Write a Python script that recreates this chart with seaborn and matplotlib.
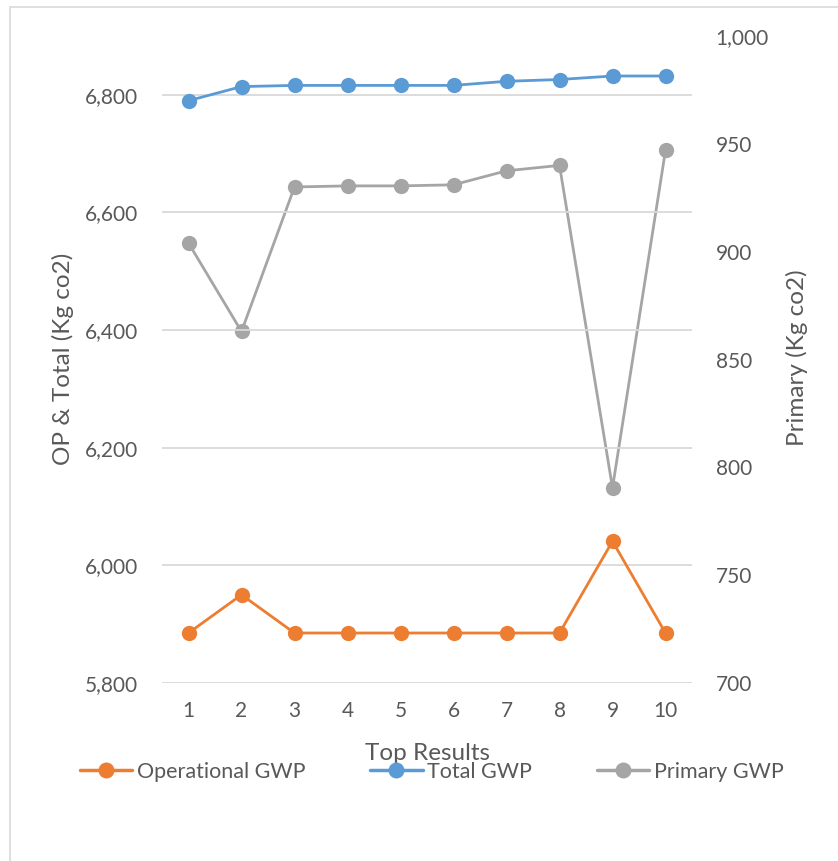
import matplotlib
matplotlib.use("Agg")
import matplotlib.pyplot as plt
import seaborn as sns
import pandas as pd
from matplotlib.lines import Line2D
from matplotlib.patches import Rectangle
from matplotlib.ticker import FuncFormatter, FixedLocator

results = [1, 2, 3, 4, 5, 6, 7, 8, 9, 10]
operational_gwp = [5885, 5950, 5885, 5885, 5885, 5885, 5885, 5885, 6041, 5885]
total_gwp = [6790, 6814, 6816, 6816, 6816, 6816, 6823, 6826, 6832, 6832]
primary_gwp = [904, 863, 930, 930.5, 930.5, 931, 937.5, 940, 790.5, 947]

left_ticks = [5800, 6000, 6200, 6400, 6600, 6800]
right_ticks = [700, 750, 800, 850, 900, 950, 1000]

sns.set_theme(style="white")
plt.rcParams['font.family'] = ['Lato', 'DejaVu Sans']

ORANGE = "#ED7D31"
BLUE = "#5B9BD5"
GRAY = "#A5A5A5"
TXT = "#595959"
GRID = "#D9D9D9"

df = pd.DataFrame({"x": results, "op": operational_gwp, "tot": total_gwp, "pri": primary_gwp})

fig = plt.figure(figsize=(8.38, 8.61), dpi=100)
fig.patches.append(Rectangle((10/838, -0.1), 1.2, 1 - 7/861 + 0.1, transform=fig.transFigure,
                             fill=False, edgecolor=GRID, linewidth=1.2))
ax = fig.add_axes([162/838, 1 - 683/861, (692-162)/838, (683-36)/861])
ax2 = ax.twinx()

mk = dict(marker="o", markersize=11, markeredgewidth=0, linewidth=2)
sns.lineplot(data=df, x="x", y="pri", ax=ax2, color=GRAY, **mk)
sns.lineplot(data=df, x="x", y="op", ax=ax, color=ORANGE, **mk)
sns.lineplot(data=df, x="x", y="tot", ax=ax, color=BLUE, **mk)
ax.set_zorder(ax2.get_zorder() + 1)
ax.patch.set_visible(False)

ax.set_xlim(0.5, 10.5)
ax.set_ylim(5800, 6900)
ax2.set_ylim(700, 1000)
ax.yaxis.set_major_locator(FixedLocator(left_ticks))
ax2.yaxis.set_major_locator(FixedLocator(right_ticks))
ax.set_xticks(results)
fmt = FuncFormatter(lambda v, p: f"{int(v):,}")
ax.yaxis.set_major_formatter(fmt)
ax2.yaxis.set_major_formatter(fmt)

for a in (ax, ax2):
    for s in a.spines.values():
        s.set_visible(False)
    a.tick_params(length=0, labelsize=15, colors=TXT)
    a.grid(False)
ax.tick_params(axis="y", pad=17)
ax2.tick_params(axis="y", pad=17)
ax.tick_params(axis="x", pad=13)
for t in left_ticks:
    ax.axhline(t, color=GRID, linewidth=1.3, zorder=0)

ax.set_xlabel("Top Results", fontsize=17.5, color=TXT)
ax.set_ylabel("OP & Total (Kg co2)", fontsize=17.5, color=TXT)
ax2.set_ylabel("Primary (Kg co2)", fontsize=17.5, color=TXT)
ax.xaxis.label.set_verticalalignment("center")
ax.yaxis.label.set_verticalalignment("center")
ax2.yaxis.label.set_verticalalignment("center")
ax.xaxis.set_label_coords(0.5, (683 - 753) / 647)
ax.yaxis.set_label_coords((63 - 162) / 530, (683 - 359) / 647)
ax2.yaxis.set_label_coords((797 - 162) / 530, (683 - 358) / 647)

handles = [Line2D([], [], color=c, marker="o", markersize=11.5, markeredgewidth=0, linewidth=2.5)
           for c in (ORANGE, BLUE, GRAY)]
fig.legend(handles, ["Operational GWP", "Total GWP", "Primary GWP"], loc="center",
           bbox_to_anchor=(432/838, 1 - 772/861), ncol=3, frameon=False, fontsize=15.5,
           labelcolor=TXT, handlelength=2.42, handletextpad=0.23, columnspacing=3.0,
           borderpad=0, borderaxespad=0)

fig.savefig("out.png", dpi=100)
